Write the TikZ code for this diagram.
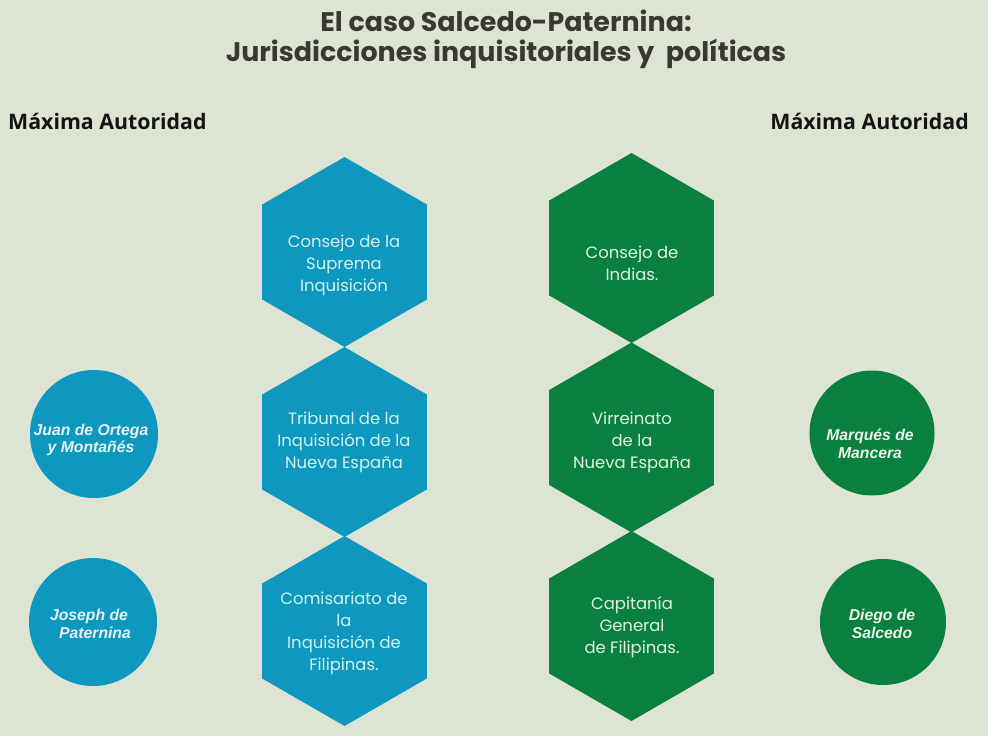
\documentclass[tikz,border=0pt]{standalone}
\usepackage{fontspec}
\setmainfont{Open Sans}
\newfontfamily\titlefont{Poppins}
\newfontfamily\hexfont{Poppins}
\newfontfamily\circfont{Liberation Sans}
\usetikzlibrary{shapes.geometric}
\definecolor{bg}{RGB}{222,228,212}
\definecolor{hblue}{RGB}{14,152,192}
\definecolor{hgreen}{RGB}{10,128,64}
\definecolor{titlec}{RGB}{58,56,50}
\definecolor{headc}{RGB}{20,20,20}
\definecolor{tblue}{RGB}{212,244,244}
\definecolor{tgreen}{RGB}{224,246,228}
\definecolor{cblue}{RGB}{232,250,250}
\definecolor{cgreen}{RGB}{240,250,240}
\tikzset{
  hexshape/.style={regular polygon, regular polygon sides=6, shape border rotate=30,
    minimum size=190bp, inner sep=0pt, outer sep=0pt, draw=none},
  hexblue/.style={hexshape, fill=hblue},
  hexgreen/.style={hexshape, fill=hgreen},
  hextext/.style={align=center, inner sep=0pt, font=\hexfont\fontsize{16.5}{22}\selectfont},
  circshape/.style={circle, minimum size=128bp, inner sep=0pt, outer sep=0pt, draw=none},
  circtext/.style={align=center, inner sep=0pt, font=\circfont\bfseries\itshape\fontsize{15.8}{17.5}\selectfont},
  titletext/.style={anchor=base, inner sep=0pt, text=titlec, font=\titlefont\bfseries\fontsize{27}{30}\selectfont},
  headtext/.style={inner sep=0pt, text=headc, font=\bfseries\fontsize{21.4}{24}\selectfont}
}
\begin{document}
\begin{tikzpicture}[x=1bp,y=-1bp]
\fill[bg] (0,0) rectangle (988,736);
\useasboundingbox (0,0) rectangle (988,736);

% title
\node[titletext] (t1) at (506,32) {El caso Salcedo-Paternina:};
\node[titletext] (t2) at (506,62) {Jurisdicciones inquisitoriales y~~políticas};

% headings
\node[headtext, anchor=base west] (hl) at (8,129) {Máxima Autoridad};
\node[headtext, anchor=base east] (hr) at (969,129) {Máxima Autoridad};

% blue hexagons
\node[hexblue] (b1) at (344.5,252) {};
\node[hexblue] (b2) at (344.5,442) {};
\node[hexblue] (b3) at (344.5,631) {};
\node[hextext, text=tblue] (b1t) at (344,265) {Consejo de la\\Suprema\\Inquisición};
\node[hextext, text=tblue] (b2t) at (344,442) {Tribunal de la\\Inquisición de la\\Nueva España};
\node[hextext, text=tblue] (b3t) at (344,633) {Comisariato de\\la\\Inquisición de\\Filipinas.};

% green hexagons
\node[hexgreen] (g1) at (631.5,248) {};
\node[hexgreen] (g2) at (631.5,437.5) {};
\node[hexgreen] (g3) at (631.5,626) {};
\node[hextext, text=tgreen] (g1t) at (632,263) {Consejo de\\Indias.};
\node[hextext, text=tgreen] (g2t) at (632,442) {Virreinato\\de la\\Nueva España};
\node[hextext, text=tgreen] (g3t) at (632,627) {Capitanía\\General\\de Filipinas.};

% circles
\node[circshape, fill=hblue] (c1) at (94,434) {};
\node[circshape, fill=hblue] (c2) at (93,622) {};
\node[circshape, fill=hgreen, minimum size=125bp] (c3) at (872,433) {};
\node[circshape, fill=hgreen, minimum size=126bp] (c4) at (883,622) {};
\node[circtext, text=cblue] (c1t) at (91,440) {Juan de Ortega\\y Montañés};
\node[circtext, text=cblue] (c2t) at (89,624) {Joseph de\\\hspace*{12bp}Paternina};
\node[circtext, text=cgreen] (c3t) at (870,444) {Marqués de\\Mancera};
\node[circtext, text=cgreen] (c4t) at (882,624) {Diego de\\Salcedo};
\end{tikzpicture}
\end{document}
